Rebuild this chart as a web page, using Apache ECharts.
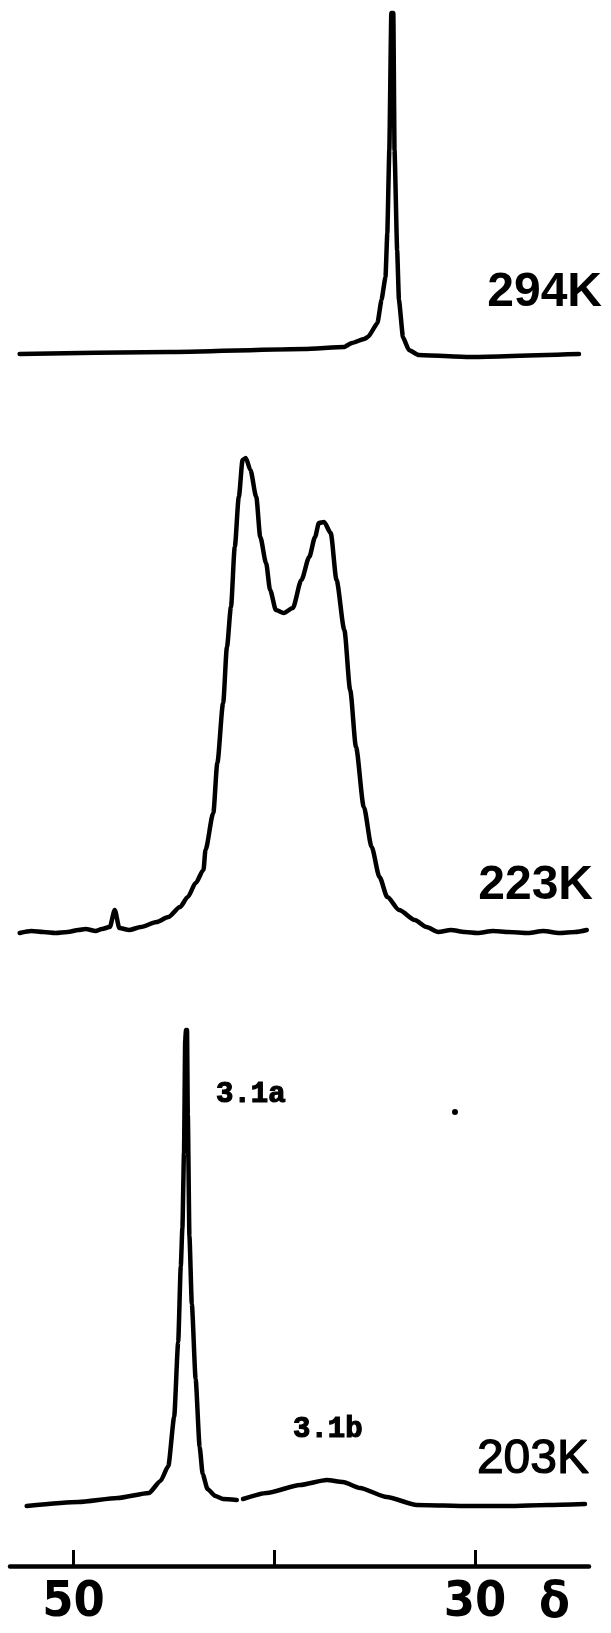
<!DOCTYPE html>
<html lang="en">
<head>
  <meta charset="UTF-8">
  <title>NMR spectra 294K / 223K / 203K</title>
  <script src="https://cdn.jsdelivr.net/npm/echarts@6/dist/echarts.min.js"></script>
  <style>
    html, body { margin: 0; padding: 0; background: #fff; }
  </style>
</head>
<body>
<div id="demo1" style="width: 611px;height: 1633px"></div>
</body>
<script>

  var demo1 = echarts.init(document.getElementById('demo1'));

  // chemical shift (delta, ppm) and intensity (arbitrary units)
  var delta294 = [52.69, 45.29, 38.5, 36.53, 36.13, 35.53, 35.33, 34.86, 34.66, 34.46, 34.37, 34.27, 34.17,
    34.07, 34.01, 33.88, 33.79, 33.59, 33.30, 32.81, 30.27, 24.82];
  var int294 = [2, 4, 7, 9, 13, 17, 19, 33, 56, 79, 123, 206, 343,
    343, 206, 106, 56, 19, 6, 1, -1, 2];

  var delta223 = [52.69, 52.1, 51.5, 50.9, 50.3, 49.76, 49.4, 48.9, 48.59, 48.2, 47.95, 47.72, 47.23, 46.65,
    45.86, 45.28, 44.70, 44.31, 43.92, 43.53, 43.43, 43.04, 42.84, 42.55, 42.36, 42.16, 41.97, 41.77, 41.58, 41.42,
    41.19, 40.90, 40.70, 40.41, 40.21, 39.92, 39.53, 39.08, 38.65, 38.26, 37.97, 37.78, 37.52, 37.19, 36.90,
    36.51, 36.22, 35.93, 35.54, 35.15, 34.76, 34.37, 33.78, 33.00, 32.42, 31.83, 31.2, 30.5, 29.88, 29.1,
    28.33, 27.35, 26.6, 25.8, 25.0, 24.43];
  var int223 = [-1, 1, 0, -1, 0, 2, 3, 1, 3, 5, 22, 4, 2, 5,
    10, 15, 25, 35, 49, 62, 82, 119, 169, 229, 285, 325, 385, 435, 472, 474,
    462, 435, 395, 369, 342, 322, 319, 324, 352, 375, 395, 409, 410, 399, 352,
    302, 242, 185, 125, 85, 55, 35, 22, 12, 5, 0, 2, 0, -1, 1,
    0, -1, 1, -1, 0, 2];

  var delta203 = [52.34, 49.76, 47.81, 46.25, 45.67, 45.28, 44.99, 44.79, 44.66, 44.58, 44.50, 44.44, 44.40,
    44.35, 44.31, 44.23, 44.11, 43.92, 43.72, 43.57, 43.33, 42.94, 42.55, 41.87, 41.70, 41.56, 40.38, 38.72,
    37.39, 36.58, 35.73, 34.40, 32.90, 30.27, 28.33, 26.37, 24.52];
  var int203 = [-2, 2, 6, 11, 23, 38, 87, 162, 238, 276, 351, 464, 474,
    474, 389, 268, 200, 125, 57, 30, 15, 8, 5, 4, null, 5, 11, 19,
    24, 22, 16, 7, -1, -2, -2, -1, 0];

  var tickValues = [50, 40, 30];
  var labelValues = [50, 30];
  var tempLabels = ['294K', '223K', '203K'];

  function pairs(xs, ys) {
    var out = [];
    for (var i = 0; i < xs.length; i++) {
      out.push([xs[i], ys[i]]);
    }
    return out;
  }

  var xMin = 24.32, xMax = 53.17;
  var lineStyle = {color: '#000', width: 4.5, cap: 'round', join: 'round'};
  var narrow = '"Liberation Sans Narrow", "DejaVu Sans Condensed", sans-serif';

  function hiddenX(idx) {
    return {type: 'value', gridIndex: idx, min: xMin, max: xMax, inverse: true, show: false};
  }

  function trace(idx, xs, ys, sm) {
    return {
      type: 'line', xAxisIndex: idx, yAxisIndex: idx, showSymbol: false, connectNulls: false,
      smooth: sm, smoothMonotone: 'x', lineStyle: lineStyle, data: pairs(xs, ys)
    };
  }

  option = {
    backgroundColor: '#fff',
    animation: false,
    grid: [
      {left: 10, right: 22, top: 0, height: 370},
      {left: 10, right: 22, top: 430, height: 520},
      {left: 10, right: 22, top: 1000, height: 566}
    ],
    xAxis: [
      hiddenX(0),
      hiddenX(1),
      {
        type: 'value', gridIndex: 2, min: xMin, max: xMax, inverse: true,
        splitLine: {show: false},
        axisLine: {onZero: false, lineStyle: {color: '#000', width: 4.5}},
        axisTick: {customValues: tickValues, inside: true, length: 16, lineStyle: {color: '#000', width: 3}},
        axisLabel: {
          customValues: labelValues, margin: 12, color: '#000',
          fontSize: 50, fontWeight: 'bold', fontFamily: narrow
        }
      }
    ],
    yAxis: [
      {type: 'value', gridIndex: 0, min: -14, max: 356, show: false},
      {type: 'value', gridIndex: 1, min: -18, max: 502, show: false},
      {type: 'value', gridIndex: 2, min: -62, max: 504, show: false}
    ],
    series: [
      trace(0, delta294, int294, 0.15),
      trace(1, delta223, int223, 0.25),
      trace(2, delta203, int203, 0.2)
    ],
    graphic: [
      {type: 'text', x: 602, y: 293, style: {text: tempLabels[0], fill: '#000', font: 'bold 48px "Liberation Sans", sans-serif', align: 'right', verticalAlign: 'middle'}},
      {type: 'text', x: 593, y: 886, style: {text: tempLabels[1], fill: '#000', font: 'bold 48px "Liberation Sans", sans-serif', align: 'right', verticalAlign: 'middle'}},
      {type: 'text', x: 589, y: 1460, style: {text: tempLabels[2], fill: '#000', stroke: '#000', lineWidth: 1.2, font: '48px "Liberation Sans", sans-serif', align: 'right', verticalAlign: 'middle'}},
      {type: 'text', x: 216, y: 1095, style: {text: '3.1a', fill: '#000', stroke: '#000', lineWidth: 1.2, font: 'bold 29px "Liberation Mono", monospace', align: 'left', verticalAlign: 'middle'}},
      {type: 'text', x: 293, y: 1430, style: {text: '3.1b', fill: '#000', stroke: '#000', lineWidth: 1.2, font: 'bold 29px "Liberation Mono", monospace', align: 'left', verticalAlign: 'middle'}},
      {type: 'text', x: 539, y: 1604, style: {text: 'δ', fill: '#000', font: 'bold 50px ' + narrow, align: 'left', verticalAlign: 'middle'}},
      {type: 'circle', shape: {cx: 455, cy: 1112, r: 3}, style: {fill: '#000'}}
    ]
  };

  demo1.setOption(option);

</script>
</html>
